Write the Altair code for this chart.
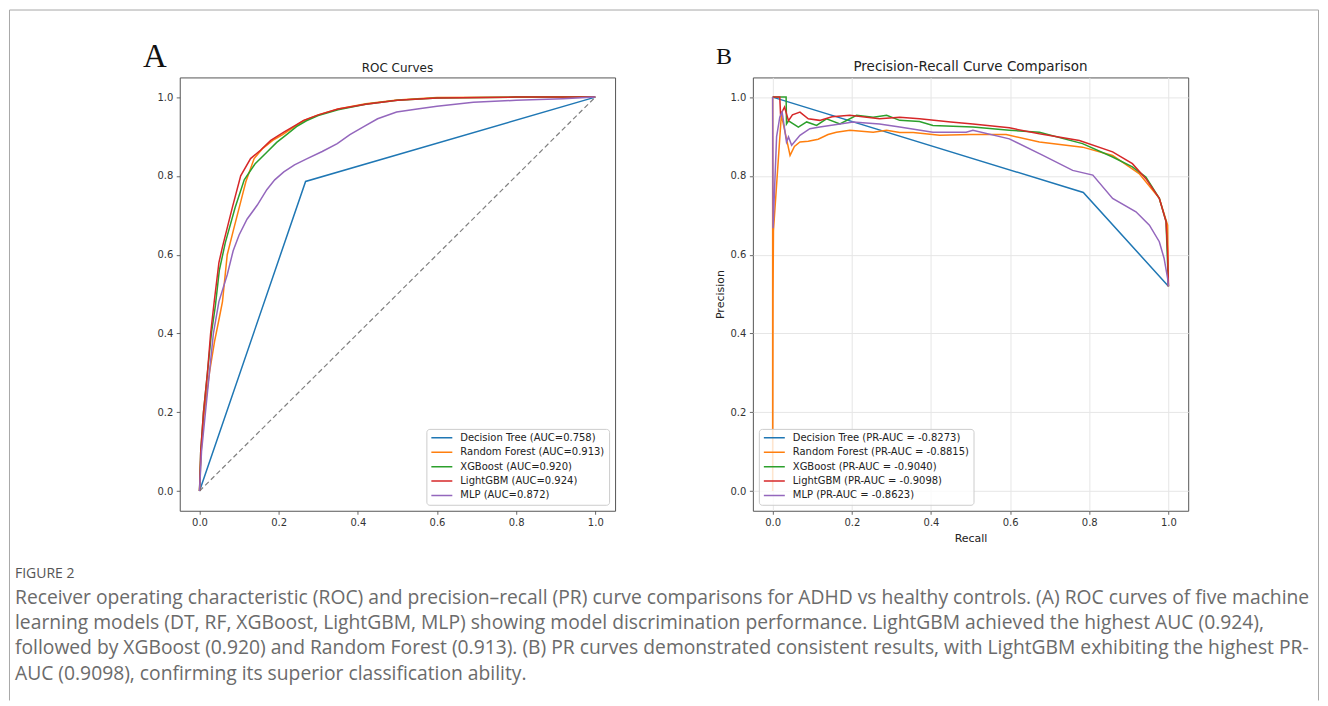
import altair as alt
import pandas as pd

models = ["Decision Tree", "Random Forest", "XGBoost", "LightGBM", "MLP"]
roc_auc = ["0.758", "0.913", "0.920", "0.924", "0.872"]
pr_auc = ["-0.8273", "-0.8815", "-0.9040", "-0.9098", "-0.8623"]
colors = ["#1f77b4", "#ff7f0e", "#2ca02c", "#d62728", "#9467bd"]
tick_values = [0.0, 0.2, 0.4, 0.6, 0.8, 1.0]

# ---- ROC curves (false positive rate, true positive rate) ----
dt_fpr = [0.0, 0.268, 1.0]
dt_tpr = [0.0, 0.786, 1.0]
rf_fpr = [0.0, 0.004, 0.012, 0.025, 0.038, 0.05, 0.058, 0.07, 0.085, 0.104, 0.117, 0.138, 0.16, 0.185, 0.21, 0.24, 0.263, 0.3, 0.35, 0.42, 0.5, 0.6, 0.8, 1.0]
rf_tpr = [0.0, 0.1, 0.2, 0.3, 0.38, 0.44, 0.481, 0.6, 0.66, 0.734, 0.785, 0.844, 0.87, 0.89, 0.905, 0.925, 0.94, 0.955, 0.97, 0.983, 0.993, 0.999, 1.0, 1.0]
xgb_fpr = [0.0, 0.003, 0.01, 0.02, 0.03, 0.04, 0.05, 0.065, 0.09, 0.113, 0.14, 0.17, 0.195, 0.22, 0.245, 0.27, 0.3, 0.35, 0.42, 0.5, 0.6, 0.8, 1.0]
xgb_tpr = [0.0, 0.1, 0.2, 0.3, 0.4, 0.47, 0.56, 0.63, 0.72, 0.79, 0.83, 0.86, 0.885, 0.905, 0.925, 0.94, 0.953, 0.968, 0.982, 0.992, 0.998, 1.0, 1.0]
lgbm_fpr = [0.0, 0.003, 0.01, 0.02, 0.028, 0.037, 0.049, 0.058, 0.083, 0.104, 0.129, 0.154, 0.18, 0.213, 0.24, 0.263, 0.3, 0.35, 0.42, 0.5, 0.6, 0.8, 1.0]
lgbm_tpr = [0.0, 0.1, 0.2, 0.3, 0.4, 0.48, 0.58, 0.62, 0.72, 0.8, 0.844, 0.865, 0.89, 0.911, 0.927, 0.941, 0.955, 0.97, 0.982, 0.992, 0.998, 1.0, 1.0]
mlp_fpr = [0.0, 0.005, 0.015, 0.025, 0.035, 0.049, 0.07, 0.085, 0.1, 0.12, 0.146, 0.17, 0.19, 0.213, 0.24, 0.272, 0.31, 0.348, 0.38, 0.415, 0.45, 0.498, 0.55, 0.6, 0.692, 0.8, 0.918, 1.0]
mlp_tpr = [0.0, 0.1, 0.2, 0.3, 0.4, 0.481, 0.549, 0.61, 0.65, 0.69, 0.726, 0.765, 0.79, 0.81, 0.828, 0.844, 0.862, 0.882, 0.905, 0.925, 0.945, 0.962, 0.97, 0.977, 0.987, 0.992, 0.996, 1.0]
diag_x = [0.0, 1.0]
diag_y = [0.0, 1.0]

# ---- Precision-recall curves (recall, precision) ----
dt_rec = [0.0, 0.785, 1.0]
dt_prec = [1.0, 0.758, 0.52]
rf_rec = [0.0, 0.0, 0.001, 0.002, 0.022, 0.044, 0.055, 0.069, 0.09, 0.115, 0.14, 0.161, 0.195, 0.254, 0.288, 0.321, 0.355, 0.422, 0.5, 0.59, 0.674, 0.783, 0.859, 0.926, 0.977, 0.998, 1.0]
rf_prec = [1.0, 0.0, 0.5, 0.66, 0.955, 0.852, 0.875, 0.886, 0.888, 0.893, 0.905, 0.911, 0.916, 0.911, 0.916, 0.91, 0.91, 0.903, 0.905, 0.905, 0.886, 0.873, 0.852, 0.806, 0.743, 0.675, 0.52]
xgb_rec = [0.0, 0.034, 0.035, 0.04, 0.065, 0.086, 0.111, 0.136, 0.17, 0.212, 0.254, 0.288, 0.321, 0.371, 0.405, 0.506, 0.598, 0.674, 0.783, 0.859, 0.909, 0.943, 0.977, 0.994, 1.0]
xgb_prec = [1.0, 1.0, 0.932, 0.94, 0.924, 0.937, 0.928, 0.945, 0.932, 0.954, 0.949, 0.954, 0.941, 0.938, 0.928, 0.924, 0.916, 0.911, 0.882, 0.848, 0.823, 0.797, 0.743, 0.684, 0.52]
lgbm_rec = [0.0, 0.018, 0.02, 0.03, 0.04, 0.05, 0.069, 0.09, 0.119, 0.15, 0.195, 0.27, 0.321, 0.371, 0.45, 0.506, 0.598, 0.674, 0.775, 0.859, 0.909, 0.943, 0.977, 0.994, 0.998, 1.0]
lgbm_prec = [1.0, 1.0, 0.955, 0.975, 0.94, 0.955, 0.962, 0.945, 0.941, 0.95, 0.954, 0.945, 0.949, 0.945, 0.937, 0.932, 0.922, 0.907, 0.89, 0.861, 0.831, 0.793, 0.743, 0.684, 0.608, 0.52]
mlp_rec = [0.0, 0.001, 0.01, 0.018, 0.024, 0.035, 0.04, 0.048, 0.069, 0.094, 0.119, 0.17, 0.203, 0.27, 0.321, 0.405, 0.489, 0.506, 0.598, 0.683, 0.758, 0.809, 0.859, 0.918, 0.952, 0.977, 0.989, 0.998, 1.0]
mlp_prec = [1.0, 0.667, 0.9, 0.949, 0.962, 0.886, 0.899, 0.878, 0.903, 0.92, 0.924, 0.932, 0.937, 0.932, 0.924, 0.911, 0.911, 0.916, 0.894, 0.852, 0.814, 0.802, 0.743, 0.709, 0.675, 0.633, 0.591, 0.54, 0.52]

roc_title = "ROC Curves"
pr_title = "Precision-Recall Curve Comparison"
caption_head = "FIGURE 2"
caption_lines = [
    "Receiver operating characteristic (ROC) and precision\u2013recall (PR) curve comparisons for ADHD vs healthy controls. (A) ROC curves of five machine",
    "learning models (DT, RF, XGBoost, LightGBM, MLP) showing model discrimination performance. LightGBM achieved the highest AUC (0.924),",
    "followed by XGBoost (0.920) and Random Forest (0.913). (B) PR curves demonstrated consistent results, with LightGBM exhibiting the highest PR-",
    "AUC (0.9098), confirming its superior classification ability.",
]

roc_labels = [f"{m} (AUC={a})" for m, a in zip(models, roc_auc)]
pr_labels = [f"{m} (PR-AUC = {a})" for m, a in zip(models, pr_auc)]


def build(labels, xs_list, ys_list):
    rows = []
    for lab, xs, ys in zip(labels, xs_list, ys_list):
        for i, (a, b) in enumerate(zip(xs, ys)):
            rows.append({"model": lab, "x": a, "y": b, "i": i})
    return pd.DataFrame(rows)


roc_df = build(roc_labels, [dt_fpr, rf_fpr, xgb_fpr, lgbm_fpr, mlp_fpr],
               [dt_tpr, rf_tpr, xgb_tpr, lgbm_tpr, mlp_tpr])
pr_df = build(pr_labels, [dt_rec, rf_rec, xgb_rec, lgbm_rec, mlp_rec],
              [dt_prec, rf_prec, xgb_prec, lgbm_prec, mlp_prec])
diag_df = pd.DataFrame({"x": diag_x, "y": diag_y})
one = pd.DataFrame({"k": [0]})

W, H = 436, 434
sc = alt.Scale(domain=[-0.05, 1.05], nice=False, zero=False)


def xenc(title, grid):
    return alt.X("x:Q", scale=sc, axis=alt.Axis(values=tick_values, format=".1f", title=title, grid=grid, titlePadding=5))


def yenc(title, grid):
    return alt.Y("y:Q", scale=sc, axis=alt.Axis(values=tick_values, format=".1f", title=title, grid=grid, titlePadding=5))


def curve_layers(df, labels, orient, xt, yt, grid):
    out = []
    for lab in labels:
        out.append(
            alt.Chart(df).transform_filter(alt.datum.model == lab)
            .mark_line(strokeWidth=1.5, clip=False)
            .encode(
                x=xenc(xt, grid), y=yenc(yt, grid), order=alt.Order("i:Q"),
                color=alt.Color("model:N", scale=alt.Scale(domain=labels, range=colors),
                                legend=alt.Legend(title=None, orient=orient, offset=6)),
            )
        )
    return out


def label(txt, x, y, **kw):
    return alt.Chart(one).mark_text(text=txt, **kw).encode(x=alt.value(x), y=alt.value(y))


diag = alt.Chart(diag_df).mark_line(strokeDash=[5, 3], color="#808080", strokeWidth=1.2).encode(
    x=xenc(None, False), y=yenc(None, False))

title_a = label(roc_title, W / 2, -5, font="DejaVu Sans", fontSize=12, align="center",
                baseline="alphabetic", color="#222")
title_b = label(pr_title, W / 2, -6.5, font="DejaVu Sans", fontSize=13.5, align="center",
                baseline="alphabetic", color="#222")
letter_a = label("A", -25, -10, font="Liberation Serif", fontSize=33, align="center",
                 baseline="alphabetic", color="#111")
letter_b = label("B", -29, -13, font="Liberation Serif", fontSize=24, align="center",
                 baseline="alphabetic", color="#111")

fig_head = label(caption_head, -165, 497, font="Open Sans", fontSize=14, align="left",
                 baseline="middle", color="#555")
fig_text = alt.Chart(one).mark_text(font="Open Sans", fontSize=19.3, align="left", baseline="top",
                                    lineHeight=25.4, color="#6b6b6b").encode(
    x=alt.value(-165), y=alt.value(512), text=alt.value(caption_lines))

border_col = "#a8a8a8"
b_top = alt.Chart(one).mark_rule(color=border_col, strokeWidth=1).encode(
    x=alt.value(-170.5), x2=alt.value(1140.5), y=alt.value(-67.5))
b_left = alt.Chart(one).mark_rule(color=border_col, strokeWidth=1).encode(
    x=alt.value(-170.5), y=alt.value(-67.5), y2=alt.value(624))
b_right = alt.Chart(one).mark_rule(color=border_col, strokeWidth=1).encode(
    x=alt.value(1140.5), y=alt.value(-67.5), y2=alt.value(624))

left = alt.layer(
    diag, *curve_layers(roc_df, roc_labels, "bottom-right", None, None, False),
    title_a, letter_a, fig_head, fig_text, b_top, b_left, b_right,
).properties(width=W, height=H)

right = alt.layer(
    *curve_layers(pr_df, pr_labels, "bottom-left", "Recall", "Precision", True),
    title_b, letter_b,
).properties(width=W, height=H)

chart = alt.hconcat(left, right, spacing=138, bounds="flush").resolve_scale(
    color="independent"
).properties(padding=0).configure_view(
    stroke="#555", strokeWidth=1
).configure_axis(
    labelFont="DejaVu Sans", labelFontSize=10, labelColor="#333",
    tickColor="#444", tickSize=3.5, tickWidth=0.8, labelPadding=3.5,
    domain=False, gridColor="#e6e6e6", gridWidth=1,
    titleFont="DejaVu Sans", titleFontSize=11, titleFontWeight="normal", titleColor="#222",
).configure_legend(
    labelFont="DejaVu Sans", labelFontSize=10, labelColor="#222",
    symbolType="stroke", symbolSize=441, symbolStrokeWidth=1.5, clipHeight=10,
    rowPadding=4.4, labelOffset=7, padding=4, cornerRadius=3,
    fillColor="rgba(255,255,255,0.8)", strokeColor="#cccccc", labelLimit=400,
)

chart.save("out.html", embed_options={"renderer": "svg", "actions": False})
